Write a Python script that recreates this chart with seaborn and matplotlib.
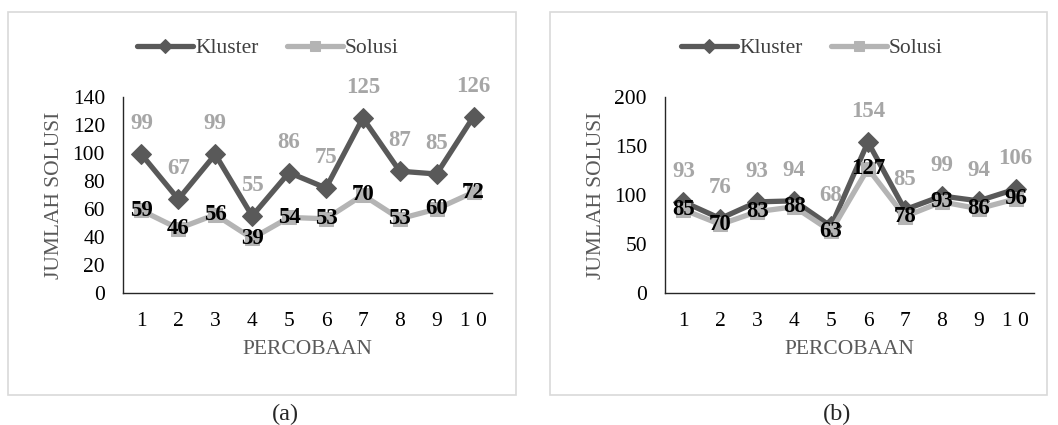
import numpy as np
import pandas as pd
import matplotlib
matplotlib.use('Agg')
import matplotlib.pyplot as plt
import matplotlib.patches as mpatches
import seaborn as sns

percobaan = list(range(1, 11))
kluster_a = [99, 67, 99, 55, 86, 75, 125, 87, 85, 126]
solusi_a = [59, 46, 56, 39, 54, 53, 70, 53, 60, 72]
kluster_b = [93, 76, 93, 94, 68, 154, 85, 99, 94, 106]
solusi_b = [85, 70, 83, 88, 63, 127, 78, 93, 86, 96]
yticks_a = [0, 20, 40, 60, 80, 100, 120, 140]
yticks_b = [0, 50, 100, 150, 200]

sns.set_style("white")
plt.rcParams['font.family'] = ['Liberation Serif', 'DejaVu Serif']

DARK = '#595959'
LIGHT = '#b4b4b4'
LBL = '#a6a6a6'

fig = plt.figure(figsize=(10.58, 4.25), dpi=100)

# chart borders
for x0, x1 in [(8, 516), (550, 1047)]:
    fig.patches.append(mpatches.Rectangle((x0 / 1058, 30 / 425), (x1 - x0) / 1058, 383 / 425,
                                          transform=fig.transFigure, fill=False,
                                          edgecolor='#d9d9d9', lw=1.2))

panels = [
    (123, kluster_a, solusi_a, yticks_a, 268, 285, '(a)'),
    (665, kluster_b, solusi_b, yticks_b, 812, 837, '(b)'),
]

for left, klu, sol, yt, cx, capx, cap in panels:
    ax = fig.add_axes([left / 1058, 132 / 425, 369 / 1058, 196 / 425])
    df = pd.DataFrame({'Percobaan': percobaan, 'Kluster': klu, 'Solusi': sol})
    sns.lineplot(data=df, x='Percobaan', y='Kluster', ax=ax, color=DARK, lw=3.8,
                 marker='D', markersize=10, markeredgecolor=DARK, label='Kluster', zorder=3)
    sns.lineplot(data=df, x='Percobaan', y='Solusi', ax=ax, color=LIGHT, lw=3.8,
                 marker='s', markersize=9.5, markeredgecolor=LIGHT, label='Solusi', zorder=4)
    for x, k, s in zip(percobaan, klu, sol):
        ax.annotate(str(k), (x, k), xytext=(0, 22), textcoords='offset points',
                    ha='center', va='center', fontsize=16.5, fontweight='bold', color=LBL)
        ax.annotate(str(s), (x, s), xytext=(0, 0), textcoords='offset points',
                    ha='center', va='center', fontsize=16.5, fontweight='bold', color='black',
                    zorder=5)
    ax.set_xlim(0.5, 10.5)
    ax.set_ylim(yt[0], yt[-1])
    ax.set_yticks(yt)
    ax.set_xticks(percobaan)
    ax.set_xticklabels([str(p) if p < 10 else '1 0' for p in percobaan])
    ax.tick_params(axis='both', labelsize=15.5, length=0, colors='black')
    ax.tick_params(axis='x', pad=14)
    ax.tick_params(axis='y', pad=13)
    ax.set_xlabel('PERCOBAAN', fontsize=15.5, color=DARK, labelpad=6)
    ax.set_ylabel('JUMLAH SOLUSI', fontsize=15.5, color=DARK, labelpad=6)
    for sp in ['top', 'right']:
        ax.spines[sp].set_visible(False)
    for sp in ['left', 'bottom']:
        ax.spines[sp].set_color('#262626')
        ax.spines[sp].set_linewidth(1)
    ax.patch.set_alpha(0)
    ax.get_legend().remove()
    h, l = ax.get_legend_handles_labels()
    leg = fig.legend(h, l, loc='center', bbox_to_anchor=(cx / 1058, 1 - 48 / 425), ncol=2,
                     frameon=False, fontsize=15.5, handlelength=2.6, handletextpad=0.1,
                     columnspacing=1.3, labelcolor='#404040')
    for hl in leg.get_lines():
        hl.set_markersize(7)
    fig.text(capx / 1058, 1 - 414 / 425, cap, ha='center', va='center', fontsize=17.5)

fig.savefig('out.png', dpi=100)
